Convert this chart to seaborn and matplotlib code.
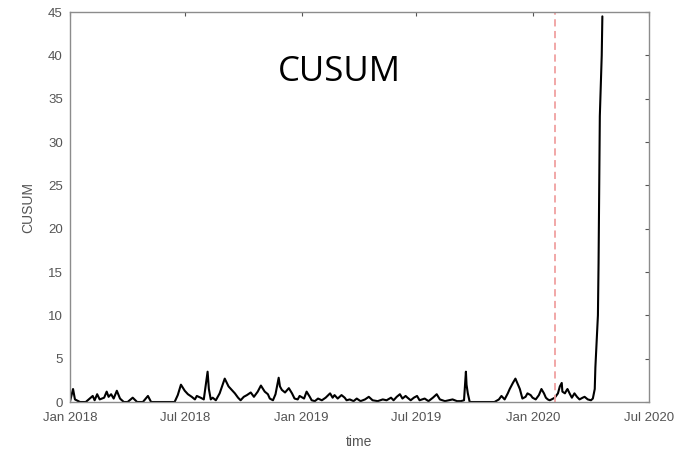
import matplotlib
matplotlib.use("Agg")
import matplotlib.pyplot as plt
import numpy as np
import pandas as pd
import seaborn as sns

start_date = "2018-01-01"
day_offset = [0, 5, 8, 16, 25, 36, 39, 43, 47, 54, 58, 61, 65, 69, 74, 79, 85, 91, 99, 106,
              115, 123, 128, 165, 170, 175, 181, 186, 192, 197, 200, 206, 211, 217, 219, 222,
              225, 230, 236, 244, 250, 255, 260, 265, 269, 274, 279, 285, 290, 296, 301, 307,
              312, 315, 320, 324, 329, 331, 334, 339, 345, 350, 354, 359, 362, 369, 373, 378,
              381, 386, 391, 397, 403, 410, 414, 417, 422, 428, 433, 436, 441, 447, 452, 458,
              465, 471, 477, 485, 493, 499, 506, 510, 515, 520, 524, 529, 532, 537, 542, 547,
              551, 559, 565, 572, 578, 583, 591, 597, 603, 610, 616, 621, 624, 625, 627, 630,
              669, 676, 680, 685, 690, 693, 698, 702, 706, 709, 713, 718, 721, 726, 729, 734,
              739, 743, 747, 750, 753, 756, 759, 764, 769, 772, 775, 776, 780, 783, 784, 788,
              791, 795, 799, 803, 808, 811, 816, 821, 824, 827, 828, 832, 833, 835, 838, 839]
cusum = [0, 1.5, 0.3, 0, 0, 0.7, 0.2, 0.9, 0.3, 0.5, 1.2, 0.6, 0.9, 0.4, 1.3, 0.4, 0, 0, 0.5, 0,
         0, 0.7, 0, 0, 0.8, 2.0, 1.3, 0.9, 0.6, 0.3, 0.7, 0.5, 0.3, 3.5, 1.5, 0.3,
         0.5, 0.2, 1.0, 2.7, 1.8, 1.4, 1.0, 0.5, 0.2, 0.6, 0.8, 1.1, 0.6, 1.2, 1.9, 1.2,
         0.9, 0.4, 0.2, 0.9, 2.8, 1.8, 1.4, 1.1, 1.6, 1.0, 0.4, 0.3, 0.7, 0.4, 1.2, 0.6,
         0.2, 0.1, 0.4, 0.2, 0.5, 1.0, 0.5, 0.8, 0.4, 0.8, 0.5, 0.2, 0.3, 0.1, 0.4, 0.1,
         0.3, 0.6, 0.2, 0.1, 0.3, 0.2, 0.5, 0.2, 0.6, 0.9, 0.4, 0.7, 0.5, 0.2, 0.5, 0.7,
         0.2, 0.4, 0.1, 0.5, 0.9, 0.3, 0.1, 0.2, 0.3, 0.1, 0.1, 0.2, 3.5, 2.0, 1.0, 0,
         0, 0.3, 0.7, 0.3, 1.0, 1.5, 2.2, 2.7, 2.0, 1.5, 0.4, 0.6, 1.0, 0.8, 0.5, 0.3,
         0.8, 1.5, 1.0, 0.5, 0.3, 0.2, 0.3, 0.5, 1.0, 1.8, 2.2, 1.2, 1.0, 1.4, 1.5, 0.9,
         0.5, 1.0, 0.6, 0.3, 0.5, 0.6, 0.3, 0.2, 0.4, 1.5, 4.0, 10, 16, 33, 40, 44.5]
change_date = "2020-02-04"
x_limits = ["2018-01-01", "2020-07-01"]
x_ticks = ["2018-01-01", "2018-07-01", "2019-01-01", "2019-07-01", "2020-01-01", "2020-07-01"]
x_tick_labels = ["Jan 2018", "Jul 2018", "Jan 2019", "Jul 2019", "Jan 2020", "Jul 2020"]
y_ticks = [0, 5, 10, 15, 20, 25, 30, 35, 40, 45]

df = pd.DataFrame({"time": pd.to_datetime(start_date) + pd.to_timedelta(day_offset, unit="D"),
                   "CUSUM": cusum})

sns.set_theme(style="white")
plt.rcParams["font.family"] = ["Liberation Sans", "DejaVu Sans"]

fig = plt.figure(figsize=(6.85, 4.54), dpi=100)
ax = fig.add_axes([0.102, 0.1145, 0.845, 0.859])

sns.lineplot(data=df, x="time", y="CUSUM", ax=ax, color="black", linewidth=1.5)
ax.axvline(pd.to_datetime(change_date), color="#f0a0a0", linestyle=(0, (4, 2.5)), linewidth=1.3)

ax.set_xlim(pd.to_datetime(x_limits[0]), pd.to_datetime(x_limits[1]))
ax.set_ylim(0, 45)
ax.set_xticks(pd.to_datetime(x_ticks))
ax.set_xticklabels(x_tick_labels)
ax.set_yticks(y_ticks)

grey = "#555555"
ax.tick_params(axis="both", direction="in", length=3, width=0.8, colors=grey,
               labelsize=9.5, top=True, right=True, labelcolor=grey)
ax.tick_params(axis="x", pad=7)
ax.tick_params(axis="y", pad=5)
for s in ax.spines.values():
    s.set_color("#8c8c8c")
    s.set_linewidth(1.0)

ax.set_xlabel("time", fontsize=10, color=grey, labelpad=8)
ax.set_ylabel("CUSUM", fontsize=10, color=grey, labelpad=9)

ax.text(0.465, 0.846, "CUSUM", transform=ax.transAxes, ha="center", va="center",
        fontsize=25, color="black", family=["Open Sans", "DejaVu Sans"])

fig.savefig("out.png", dpi=100, facecolor="white")
